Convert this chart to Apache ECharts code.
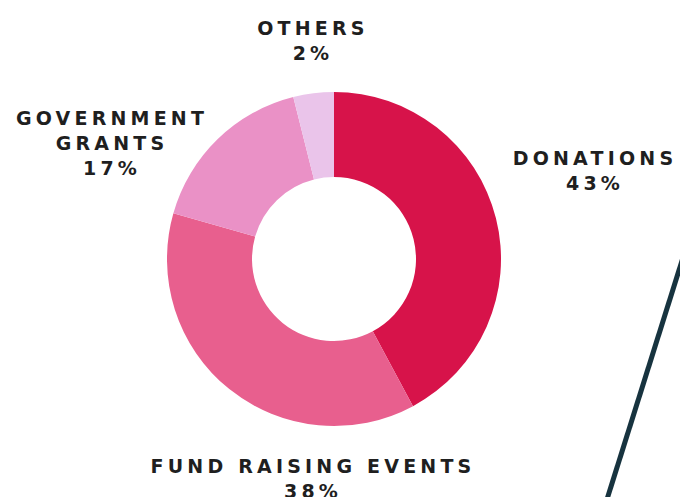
<!DOCTYPE html>
<html>
<head>
<meta charset="utf-8">
<script src="https://cdn.jsdelivr.net/npm/echarts@6/dist/echarts.min.js"></script>
<style>
  html, body { margin: 0; padding: 0; background: #ffffff; }
  #chart { width: 680px; height: 497px; }
  #chart svg text { letter-spacing: 4.2px; }
</style>
</head>
<body>
<div id="chart"></div>
<script>
// Data
const categories = ["DONATIONS", "FUND RAISING EVENTS", "GOVERNMENT\nGRANTS", "OTHERS"];
const sliceValues = [43, 38, 17, 4];           // slice sizes as drawn
const percentLabels = ["43%", "38%", "17%", "2%"]; // percentages as printed

// Styles / layout (not data)
const sliceColors = ["#D7134A", "#E85F8E", "#EA91C6", "#EAC4EA"];
const labelAnchors = [[595, 170], [313, 478], [112, 143], [313, 40]];

const chart = echarts.init(document.getElementById('chart'), null, { renderer: 'svg' });

chart.setOption({
  backgroundColor: '#ffffff',
  animation: false,
  graphic: [{
    type: 'line',
    shape: { x1: 692, y1: 229, x2: 603, y2: 512 },
    style: { stroke: '#17333F', lineWidth: 5 },
    silent: true
  }],
  series: [{
    type: 'pie',
    center: [334, 259],
    radius: [82, 167],
    startAngle: 90,
    clockwise: true,
    avoidLabelOverlap: false,
    silent: true,
    itemStyle: { borderWidth: 0 },
    labelLine: { show: false },
    label: {
      show: true,
      position: 'outside',
      formatter: p => p.name + '\n' + percentLabels[p.dataIndex],
      fontFamily: 'DejaVu Sans',
      fontWeight: 'bold',
      fontSize: 19,
      lineHeight: 25,
      color: '#1f1f1f',
      align: 'center'
    },
    labelLayout: p => ({
      x: labelAnchors[p.dataIndex][0],
      y: labelAnchors[p.dataIndex][1],
      align: 'center',
      verticalAlign: 'middle'
    }),
    data: categories.map((c, i) => ({
      name: c,
      value: sliceValues[i],
      itemStyle: { color: sliceColors[i] }
    }))
  }]
});
</script>
</body>
</html>
